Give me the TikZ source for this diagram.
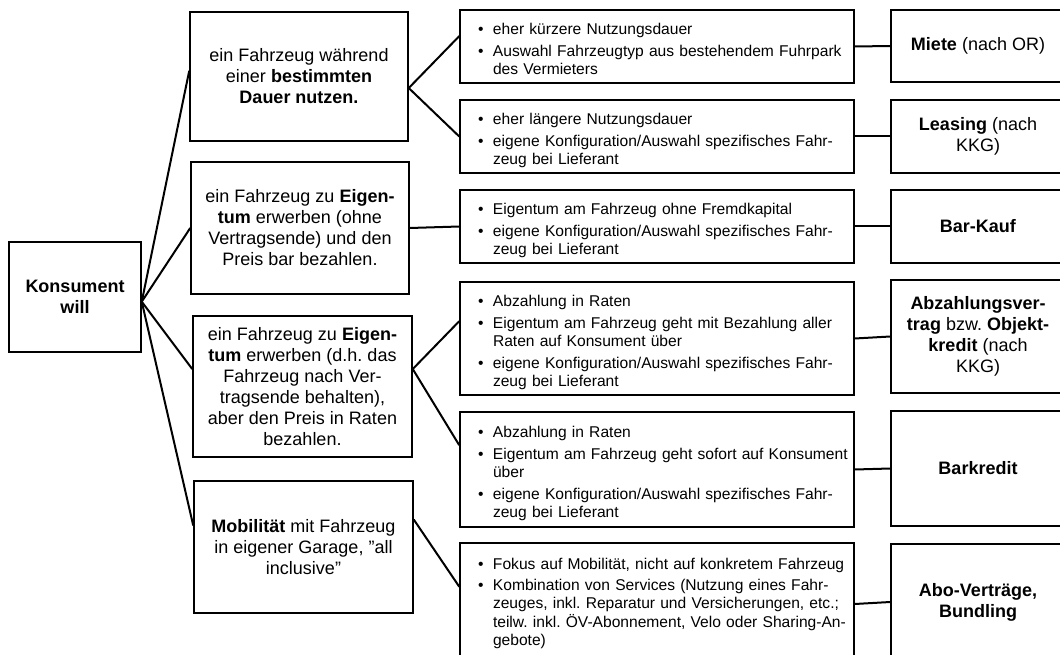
\documentclass[tikz,border=0pt]{standalone}
\usepackage{fontspec}
\setmainfont{Liberation Sans}
\frenchspacing
\newcommand{\bul}{\hspace*{8pt}\textbullet}
\newcommand{\down}[1]{\raisebox{-4pt}[\height][\depth]{#1}}
\begin{document}
\begin{tikzpicture}[x=1pt,y=-1pt,
  box/.style={draw, line width=1.5pt, align=center, inner sep=2pt,
    font=\fontsize{18}{21}\selectfont},
  listbox/.style={draw, line width=1.5pt, minimum width=394pt,
    inner xsep=10pt, text width=374pt, align=left,
    font=\fontsize{15.6}{18}\selectfont},
  endbox/.style={box, minimum width=174pt},
  link/.style={line width=2pt}]
\clip (0,0) rectangle (1060,655);
\node[box, minimum width=132pt, minimum height=110pt] (kons) at (75,297) {\textbf{Konsument}\\\textbf{will}};
% was der Konsument will
\node[box, minimum width=218pt, minimum height=129pt] (nutzen) at (299,76.5) {ein Fahrzeug während\\einer \textbf{bestimmten}\\\textbf{Dauer nutzen.}};
\node[box, minimum width=218pt, minimum height=132pt] (bar) at (300,228) {ein Fahrzeug zu \textbf{Eigen-}\\\textbf{tum} erwerben (ohne\\Vertragsende) und den\\Preis bar bezahlen.};
\node[box, minimum width=219pt, minimum height=141pt] (raten) at (302.5,386.5) {ein Fahrzeug zu \textbf{Eigen-}\\\textbf{tum} erwerben (d.h. das\\Fahrzeug nach Ver-\\tragsende behalten),\\aber den Preis in Raten\\bezahlen.};
\node[box, minimum width=219pt, minimum height=132pt] (mobil) at (303.5,547) {\textbf{Mobilität} mit Fahrzeug\\in eigener Garage, \symbol{34}all\\inclusive\symbol{34}};
% Merkmale
\node[listbox, minimum height=73pt] (lMiete) at (657,46.5) {\noindent\down{\begin{tabular}{@{}p{23pt}@{}l@{}}
\bul & eher kürzere Nutzungsdauer\\[4pt]
\bul & Auswahl Fahrzeugtyp aus bestehendem Fuhrpark\\
 & des Vermieters
\end{tabular}}};
\node[listbox, minimum height=73pt] (lLeasing) at (657,136.5) {\noindent\down{\begin{tabular}{@{}p{23pt}@{}l@{}}
\bul & eher längere Nutzungsdauer\\[4pt]
\bul & eigene Konfiguration/Auswahl spezifisches Fahr-\\
 & zeug bei Lieferant
\end{tabular}}};
\node[listbox, minimum height=73pt] (lBarkauf) at (657,226.5) {\noindent\down{\begin{tabular}{@{}p{23pt}@{}l@{}}
\bul & Eigentum am Fahrzeug ohne Fremdkapital\\[4pt]
\bul & eigene Konfiguration/Auswahl spezifisches Fahr-\\
 & zeug bei Lieferant
\end{tabular}}};
\node[listbox, minimum height=113pt] (lAbzahlung) at (657,338.5) {\noindent\down{\begin{tabular}{@{}p{23pt}@{}l@{}}
\bul & Abzahlung in Raten\\[4pt]
\bul & Eigentum am Fahrzeug geht mit Bezahlung aller\\
 & Raten auf Konsument über\\[4pt]
\bul & eigene Konfiguration/Auswahl spezifisches Fahr-\\
 & zeug bei Lieferant
\end{tabular}}};
\node[listbox, minimum height=115pt] (lBarkredit) at (657,469.5) {\noindent\down{\begin{tabular}{@{}p{23pt}@{}l@{}}
\bul & Abzahlung in Raten\\[4pt]
\bul & Eigentum am Fahrzeug geht sofort auf Konsument\\
 & über\\[4pt]
\bul & eigene Konfiguration/Auswahl spezifisches Fahr-\\
 & zeug bei Lieferant
\end{tabular}}};
\node[listbox, minimum height=122pt] (lAbo) at (657,604) {\noindent\begin{tabular}{@{}p{23pt}@{}l@{}}
\bul & Fokus auf Mobilität, nicht auf konkretem Fahrzeug\\[3pt]
\bul & Kombination von Services (Nutzung eines Fahr-\\
 & zeuges, inkl. Reparatur und Versicherungen, etc.;\\
 & teilw. inkl. ÖV-Abonnement, Velo oder Sharing-An-\\
 & gebote)
\end{tabular}};
% Vertragsarten
\node[endbox, minimum height=72pt] (Miete) at (978,46) {\textbf{Miete} (nach OR)};
\node[endbox, minimum height=73pt] (Leasing) at (978,136.5) {\textbf{Leasing} (nach\\KKG)};
\node[endbox, minimum height=73pt] (BarKauf) at (978,226.5) {\textbf{Bar-Kauf}};
\node[endbox, minimum height=113pt] (Abzahlung) at (978,336.5) {\textbf{Abzahlungsver-}\\\textbf{trag} bzw. \textbf{Objekt-}\\\textbf{kredit} (nach\\KKG)};
\node[endbox, minimum height=115pt] (Barkredit) at (978,468.5) {\textbf{Barkredit}};
\node[endbox, minimum height=116pt] (Abo) at (978,602) {\textbf{Abo-Verträge,}\\\textbf{Bundling}};
% Linien
\draw[link] (kons.-4) -- (nutzen.177);
\draw[link] (kons.-4) -- (bar.west);
\draw[link] (kons.-4) -- (raten.171);
\draw[link] (kons.-4) -- (mobil.169);
\draw[link] (nutzen.-6) -- (lMiete.177);
\draw[link] (nutzen.-6) -- (lLeasing.west);
\draw[link] (bar.east) -- (lBarkauf.west);
\draw[link] (raten.9) -- (lAbzahlung.175);
\draw[link] (raten.9) -- (lBarkredit.173);
\draw[link] (mobil.14) -- (lAbo.175);
\draw[link] (lMiete.east) -- (Miete.west);
\draw[link] (lLeasing.east) -- (Leasing.west);
\draw[link] (lBarkauf.east) -- (BarKauf.west);
\draw[link] (lAbzahlung.east) -- (Abzahlung.west);
\draw[link] (lBarkredit.east) -- (Barkredit.west);
\draw[link] (lAbo.east) -- (Abo.west);
\end{tikzpicture}
\end{document}
